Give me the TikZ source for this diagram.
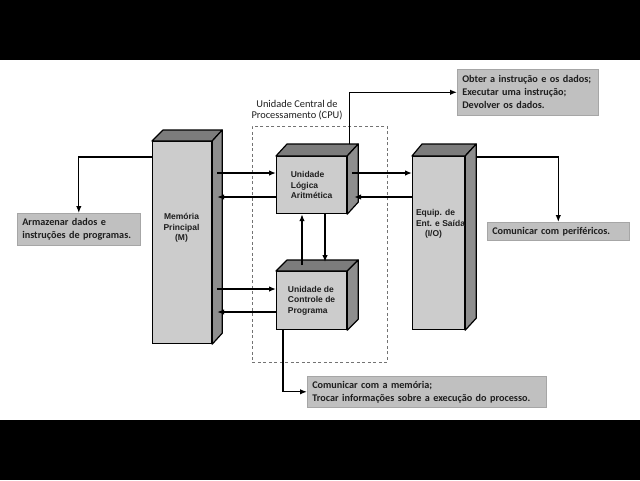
\documentclass[tikz,border=0pt]{standalone}
\usepackage{fontspec}
\setmainfont{Carlito}
\newfontfamily\arialfont{Liberation Sans}
\usetikzlibrary{calc,arrows.meta}
\definecolor{frontc}{HTML}{CCCCCC}
\definecolor{topc}{HTML}{7C7C7C}
\definecolor{sidec}{HTML}{8E8E8E}
\definecolor{callc}{HTML}{C0C0C0}
\definecolor{callb}{HTML}{A6A6A6}
\definecolor{txt}{HTML}{1E1E1E}
\begin{document}
\begin{tikzpicture}[x=1pt,y=-1pt,
  face/.style={draw=black, line width=1.2pt, fill=frontc, inner sep=0pt, anchor=north west},
  topface/.style={draw=black, line width=1.2pt, fill=topc, line join=round},
  sideface/.style={draw=black, line width=1.2pt, fill=sidec, line join=round},
  blk/.style={font=\arialfont\bfseries\fontsize{8.5}{10.5}\selectfont, text=txt},
  call/.style={fill=callc, draw=callb, line width=0.6pt, font=\bfseries\fontsize{10.2}{13}\selectfont, text=txt, align=left, inner xsep=5pt, inner ysep=0pt, anchor=north west},
  arr/.style={line width=1.3pt, -{Latex[length=7pt,width=5.5pt]}},
  cpubox/.style={draw=black!55, line width=0.7pt, dash pattern=on 3pt off 2.5pt, inner sep=0pt, anchor=north west}
]
\useasboundingbox (0,0) rectangle (640,480);
\fill[black] (0,0) rectangle (640,60);
\fill[black] (0,420) rectangle (640,480);

% CPU dashed frame and label
\node[cpubox, minimum width=135pt, minimum height=236pt] (cpu) at (252,126) {};
\node[font=\fontsize{10.4}{10.5}\selectfont, text=txt, align=center] (cpul) at (297,110) {Unidade Central de\\Processamento (CPU)};

% Memory
\node[face, minimum width=59pt, minimum height=202pt] (mem) at (152,141) {};
\fill[topface] (mem.north west) -- ++(11,-11) -- ($(mem.north east)+(10,-11)$) -- (mem.north east) -- cycle;
\fill[sideface] (mem.north east) -- ++(10,-11) -- ($(mem.south east)+(10,-11)$) -- (mem.south east) -- cycle;
\node[blk, align=center] (memt) at (181.5,228) {Memória\\Principal\\(M)};

% ALU
\node[face, minimum width=70pt, minimum height=57pt, blk, align=left] (alu) at (276,156) {Unidade\\Lógica\\Aritmética};
\fill[topface] (alu.north west) -- ++(11,-12) -- ($(alu.north east)+(11,-12)$) -- (alu.north east) -- cycle;
\fill[sideface] (alu.north east) -- ++(11,-12) -- ($(alu.south east)+(11,-12)$) -- (alu.south east) -- cycle;

% Control
\node[face, minimum width=70pt, minimum height=58pt, blk, align=left] (ctrl) at (276,271) {Unidade de\\Controle de\\Programa};
\fill[topface] (ctrl.north west) -- ++(11,-11) -- ($(ctrl.north east)+(11,-11)$) -- (ctrl.north east) -- cycle;
\fill[sideface] (ctrl.north east) -- ++(11,-11) -- ($(ctrl.south east)+(11,-11)$) -- (ctrl.south east) -- cycle;

% I/O
\node[face, minimum width=52pt, minimum height=173pt] (io) at (412,156) {};
\fill[topface] (io.north west) -- ++(10,-12) -- ($(io.north east)+(11,-12)$) -- (io.north east) -- cycle;
\fill[sideface] (io.north east) -- ++(11,-12) -- ($(io.south east)+(11,-12)$) -- (io.south east) -- cycle;
\node[blk, align=left, anchor=west] (iot) at (412.5,224) {Equip. de\\Ent. e Saída\\\hspace*{9pt}(I/O)};

% Callouts
\node[call, text width=131pt, minimum height=46pt] (obter) at (457,69) {\mbox{Obter a instrução e os dados;}\\\mbox{Executar uma instrução;}\\\mbox{Devolver os dados.}};
\node[call, text width=113pt, minimum height=32pt] (armaz) at (17,213) {\mbox{Armazenar dados e}\\\mbox{instruções de programas.}};
\node[call, text width=132pt, minimum height=18pt] (perif) at (487,222) {\mbox{Comunicar com periféricos.}};
\node[call, text width=229pt, minimum height=31pt] (commem) at (307,376) {\mbox{Comunicar com a memória;}\\\mbox{Trocar informações sobre a execução do processo.}};

% helper coordinates
\coordinate (memside) at ($(mem.east)+(5,0)$);
\coordinate (aluside) at ($(alu.east)+(5,0)$);
\coordinate (a1) at ($(alu.north west)+(0,17)$);
\coordinate (a2) at ($(alu.north west)+(0,41)$);
\coordinate (c1) at ($(ctrl.north west)+(0,18)$);
\coordinate (c2) at ($(ctrl.north west)+(0,41)$);

% Memory <-> ALU / Control
\draw[arr] (memside |- a1) -- (a1);
\draw[arr] (a2) -- (memside |- a2);
\draw[arr] (memside |- c1) -- (c1);
\draw[arr] (c2) -- (memside |- c2);

% ALU <-> Control
\draw[arr] ($(ctrl.north west)+(26,-6)$) -- ($(alu.south west)+(26,0)$);
\draw[arr] ($(alu.south west)+(49,0)$) -- ($(ctrl.north west)+(49,-9)$);

% ALU <-> I/O
\draw[arr] (aluside |- a1) -- (io.west |- a1);
\draw[arr] (io.west |- a2) -- ($(aluside |- a2)+(2,0)$);

% Callout connectors
\draw[arr] ($(alu.north east)+(2,-12)$) |- (obter.west);
\draw[arr] ($(mem.north west)+(0,16)$) -| (armaz.north);
\draw[arr] ($(io.north east)+(11,1)$) -| (perif.north);
\draw[arr] ($(ctrl.south west)+(7,0)$) |- (commem.west);
\end{tikzpicture}
\end{document}
